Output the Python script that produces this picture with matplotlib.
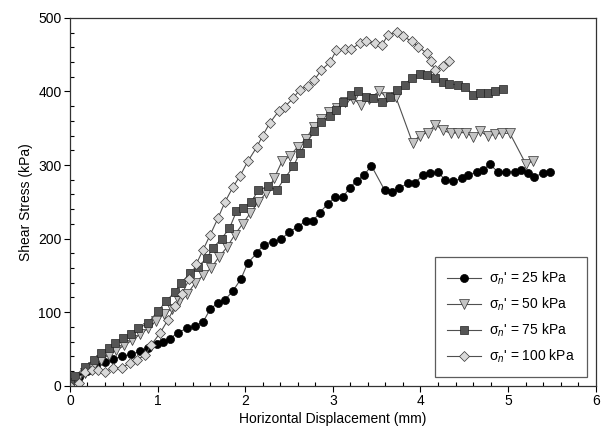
import numpy as np
import matplotlib.pyplot as plt
from matplotlib.ticker import MultipleLocator

plt.rcParams['font.family'] = ['Liberation Sans', 'DejaVu Sans']
plt.rcParams['mathtext.fontset'] = 'custom'
plt.rcParams['mathtext.rm'] = 'Liberation Sans'
plt.rcParams['mathtext.it'] = 'Liberation Sans:italic'

# sigma_n' = 25 kPa
x25 = [0.0, 0.1, 0.2, 0.3, 0.4, 0.49, 0.59, 0.70, 0.80, 0.89, 0.99, 1.06, 1.14, 1.23, 1.33,
       1.43, 1.52, 1.60, 1.69, 1.77, 1.86, 1.95, 2.03, 2.13, 2.21, 2.32, 2.41, 2.50, 2.60,
       2.69, 2.77, 2.85, 2.94, 3.02, 3.12, 3.19, 3.27, 3.36, 3.44, 3.59, 3.67, 3.76, 3.86,
       3.94, 4.03, 4.11, 4.20, 4.28, 4.37, 4.47, 4.54, 4.64, 4.71, 4.79, 4.88, 4.98, 5.08,
       5.15, 5.23, 5.30, 5.40, 5.48]
y25 = [0, 12, 20, 28, 33, 36, 40, 43, 47, 51, 57, 60, 64, 72, 78,
       81, 87, 104, 113, 117, 129, 145, 167, 180, 192, 196, 199, 209, 216,
       224, 224, 235, 247, 256, 257, 269, 278, 287, 299, 266, 264, 269, 275,
       276, 287, 289, 290, 280, 278, 282, 287, 290, 293, 301, 291, 290, 291,
       293, 289, 284, 289, 291]

# sigma_n' = 50 kPa
x50 = [0.0, 0.08, 0.17, 0.26, 0.35, 0.44, 0.53, 0.62, 0.71, 0.80, 0.89, 0.98, 1.07, 1.16,
       1.25, 1.34, 1.43, 1.52, 1.61, 1.70, 1.79, 1.88, 1.97, 2.06, 2.15, 2.24, 2.33, 2.42,
       2.51, 2.60, 2.69, 2.78, 2.87, 2.96, 3.05, 3.14, 3.23, 3.32, 3.41, 3.53, 3.62, 3.72,
       3.91, 3.99, 4.08, 4.17, 4.26, 4.35, 4.43, 4.52, 4.60, 4.68, 4.77, 4.85, 4.93, 5.02,
       5.20, 5.28]
y50 = [0, 8, 18, 25, 35, 42, 48, 55, 62, 70, 78, 88, 97, 105,
       115, 125, 140, 150, 160, 175, 188, 205, 220, 235, 250, 262, 282, 305,
       312, 325, 335, 352, 362, 372, 378, 385, 390, 382, 390, 400, 392, 392,
       330, 340, 344, 355, 347, 343, 344, 344, 338, 346, 339, 342, 343, 343,
       302, 305]

# sigma_n' = 75 kPa
x75 = [0.0, 0.06, 0.17, 0.27, 0.36, 0.44, 0.51, 0.61, 0.70, 0.78, 0.89, 1.00, 1.10, 1.20,
       1.27, 1.37, 1.46, 1.56, 1.63, 1.73, 1.82, 1.90, 1.98, 2.07, 2.15, 2.26, 2.36, 2.45,
       2.55, 2.62, 2.70, 2.79, 2.87, 2.97, 3.04, 3.12, 3.21, 3.29, 3.38, 3.46, 3.56, 3.65,
       3.73, 3.82, 3.90, 3.99, 4.07, 4.16, 4.26, 4.33, 4.43, 4.51, 4.60, 4.68, 4.77, 4.85,
       4.94]
y75 = [5, 13, 26, 35, 44, 52, 58, 65, 71, 78, 85, 101, 115, 128,
       140, 153, 162, 173, 187, 200, 214, 237, 241, 250, 266, 271, 266, 282,
       298, 316, 330, 346, 359, 366, 375, 386, 395, 400, 393, 391, 386, 392,
       402, 409, 418, 423, 422, 418, 413, 410, 409, 406, 395, 398, 398, 400,
       403]

# sigma_n' = 100 kPa
x100 = [0.0, 0.1, 0.17, 0.25, 0.32, 0.40, 0.49, 0.59, 0.68, 0.76, 0.86, 0.93, 1.03, 1.12,
        1.20, 1.28, 1.36, 1.44, 1.52, 1.60, 1.69, 1.77, 1.86, 1.94, 2.03, 2.13, 2.20, 2.28,
        2.38, 2.45, 2.55, 2.62, 2.72, 2.79, 2.87, 2.97, 3.04, 3.14, 3.21, 3.31, 3.38, 3.48,
        3.56, 3.63, 3.73, 3.80, 3.90, 3.97, 4.07, 4.12, 4.16, 4.26, 4.33]
y100 = [0, 4, 19, 22, 22, 19, 24, 24, 31, 35, 42, 56, 72, 90,
        108, 125, 145, 165, 185, 205, 228, 250, 270, 285, 305, 324, 340, 357,
        373, 379, 391, 402, 408, 416, 429, 440, 456, 457, 457, 466, 468, 466,
        463, 477, 481, 475, 468, 461, 452, 441, 429, 434, 441]

labels = ["25", "50", "75", "100"]

fig = plt.figure(figsize=(6.03, 4.34), dpi=100)
ax = fig.add_axes([0.116, 0.111, 0.872, 0.848])

lc = '#505050'
ax.plot(x25, y25, '-o', color=lc, lw=0.8, ms=5.8, mfc='black', mec='black', mew=0.5,
        label="σ$_n$' = %s kPa" % labels[0])
ax.plot(x50, y50, '-v', color=lc, lw=0.8, ms=6.8, mfc='#c4c4c4', mec='#333333', mew=0.5,
        label="σ$_n$' = %s kPa" % labels[1])
ax.plot(x75, y75, '-s', color=lc, lw=0.8, ms=5.8, mfc='#555555', mec='#222222', mew=0.5,
        label="σ$_n$' = %s kPa" % labels[2])
ax.plot(x100, y100, '-D', color=lc, lw=0.8, ms=5.4, mfc='#d9d9d9', mec='#333333', mew=0.5,
        label="σ$_n$' = %s kPa" % labels[3])

ax.set_xlim(0, 6)
ax.set_ylim(0, 500)
ax.xaxis.set_major_locator(MultipleLocator(1))
ax.xaxis.set_minor_locator(MultipleLocator(0.2))
ax.yaxis.set_major_locator(MultipleLocator(100))
ax.yaxis.set_minor_locator(MultipleLocator(20))
ax.tick_params(which='major', direction='out', length=4, width=0.8, labelsize=10, pad=2)
ax.tick_params(which='minor', direction='in', length=3, width=0.8)
ax.tick_params(top=False, right=False)
for s in ax.spines.values():
    s.set_linewidth(0.9)
    s.set_color('#333333')

ax.set_xlabel('Horizontal Displacement (mm)', fontsize=10, labelpad=3)
ax.set_ylabel('Shear Stress (kPa)', fontsize=10, labelpad=4)

leg = ax.legend(loc='lower right', fontsize=10, frameon=True, fancybox=False,
                edgecolor='#333333', borderpad=0.9, labelspacing=0.62, handlelength=2.4,
                handletextpad=0.6, borderaxespad=0.6)
leg.get_frame().set_linewidth(0.9)

plt.savefig('out.png', dpi=100)
